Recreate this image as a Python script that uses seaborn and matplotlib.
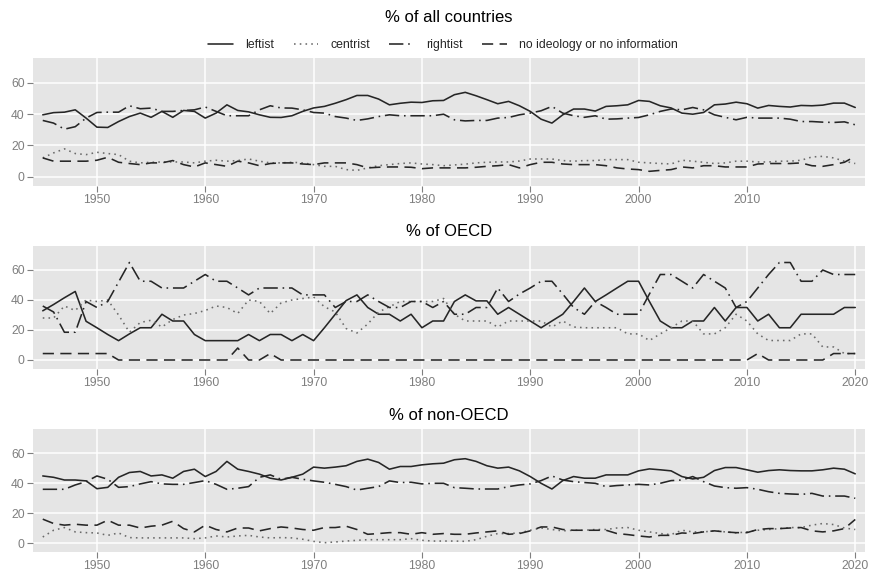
import matplotlib
matplotlib.use("Agg")
import matplotlib.pyplot as plt
import seaborn as sns
import pandas as pd
from matplotlib.lines import Line2D

YEARS = list(range(1945, 2021))
SERIES = ["leftist", "centrist", "rightist", "no ideology or no information"]

# ---------------- % of all countries ----------------
ALL_L = [39.6, 41.0, 41.3, 42.8, 37.5,
         31.7, 31.5, 35.3, 38.5, 40.7, 38.0, 41.8, 38.0, 42.4, 41.8,
         37.5, 40.7, 46.0, 42.4, 41.5, 39.6, 38.0, 37.9, 39.0, 41.8,
         44.0, 45.0, 47.0, 49.3, 52.0, 52.0, 49.7, 46.0, 47.0, 47.7,
         47.5, 48.6, 48.8, 52.5, 54.0, 51.8, 49.3, 46.7, 48.2, 45.4,
         41.8, 36.8, 34.3, 39.6, 43.3, 43.3, 42.0, 45.0, 45.4, 46.0,
         48.8, 48.2, 45.4, 44.0, 40.7, 40.0, 41.1, 46.0, 46.5, 47.7,
         46.7, 43.9, 45.6, 45.0, 44.6, 45.6, 45.4, 45.8, 47.1, 47.1, 44.3]
ALL_C = [12.0, 15.2, 17.8, 14.8, 14.1,
         15.6, 14.8, 14.1, 9.9, 8.8, 9.2, 9.4, 9.4, 9.4, 8.8,
         9.9, 10.5, 9.9, 10.3, 11.3, 9.9, 8.8, 8.8, 9.2, 8.8,
         7.7, 6.6, 6.6, 4.5, 4.0, 5.6, 7.0, 7.7, 8.4, 8.8,
         8.1, 7.7, 7.0, 7.5, 8.0, 8.8, 9.2, 9.4, 9.4, 10.0,
         11.3, 11.3, 11.3, 10.3, 9.9, 10.3, 10.3, 10.9, 10.9, 10.9,
         9.2, 8.8, 8.4, 8.1, 10.5, 9.9, 9.2, 8.4, 8.8, 9.9,
         9.9, 9.4, 9.4, 9.9, 9.9, 10.5, 12.6, 13.0, 12.0, 9.9, 8.4]
ALL_R = [36.0, 34.3, 30.4, 32.0, 37.5,
         41.1, 41.3, 41.3, 45.4, 43.5, 43.9, 41.8, 41.8, 42.4, 42.8,
         44.6, 41.8, 39.0, 39.0, 39.0, 42.8, 45.4, 44.0, 43.9, 42.8,
         41.1, 40.7, 38.5, 37.5, 36.0, 37.0, 38.5, 39.6, 39.0, 39.0,
         39.0, 39.0, 40.0, 36.4, 35.7, 36.0, 36.0, 37.5, 37.9, 39.6,
         40.7, 42.2, 45.0, 40.7, 39.0, 38.0, 39.0, 36.8, 37.0, 37.5,
         37.9, 39.6, 41.8, 43.3, 42.8, 44.3, 42.8, 39.6, 38.0, 36.4,
         38.0, 37.5, 37.5, 37.5, 36.8, 35.3, 35.3, 34.9, 34.7, 35.1, 33.2]
ALL_N = [12.0, 9.9, 9.9, 9.9, 9.9,
         10.5, 12.4, 9.2, 8.4, 7.7, 8.8, 8.8, 10.3, 7.7, 6.2,
         8.8, 7.7, 6.6, 9.9, 8.8, 7.0, 8.4, 8.8, 8.8, 8.1,
         7.7, 8.8, 8.8, 8.8, 7.7, 5.6, 6.0, 6.2, 6.2, 6.0,
         5.1, 5.6, 5.6, 5.6, 5.6, 6.0, 6.6, 7.0, 7.7, 5.6,
         7.7, 9.2, 9.2, 8.1, 7.7, 7.7, 7.7, 7.0, 5.6, 4.9,
         4.5, 3.4, 4.0, 4.5, 6.2, 5.6, 7.0, 7.0, 6.2, 6.2,
         6.2, 8.1, 8.4, 8.4, 8.4, 8.8, 7.0, 6.6, 7.7, 9.2, 13.0]

# ---------------- % of OECD ----------------
OECD_L = [32.8, 37.0, 41.5, 45.7, 25.8,
          21.5, 17.0, 12.9, 17.4, 21.5, 21.5, 30.5, 26.0, 26.0, 17.0,
          12.9, 12.9, 12.9, 12.9, 17.0, 12.9, 17.0, 17.0, 12.9, 17.0,
          12.9, 21.5, 30.5, 39.6, 43.4, 35.0, 30.5, 30.5, 26.0, 30.5,
          21.5, 26.0, 26.0, 39.0, 43.4, 39.4, 39.4, 30.5, 35.0, 30.5,
          26.0, 21.5, 26.0, 30.5, 39.0, 48.0, 39.0, 43.4, 48.0, 52.5,
          52.5, 39.0, 26.0, 21.5, 21.5, 26.0, 26.0, 35.0, 26.0, 35.0,
          35.0, 26.0, 30.5, 21.5, 21.5, 30.5, 30.5, 30.5, 30.5, 35.0, 35.0]
OECD_C = [28.0, 28.0, 36.0, 33.0, 40.0,
          39.0, 40.0, 30.0, 18.5, 25.0, 26.5, 22.0, 27.0, 30.0, 31.0,
          33.0, 36.0, 35.0, 31.0, 40.0, 39.0, 31.0, 38.0, 40.0, 41.0,
          42.0, 35.5, 32.0, 21.0, 18.0, 24.0, 32.0, 35.5, 39.0, 39.0,
          39.0, 39.0, 41.0, 30.5, 26.0, 26.0, 26.0, 22.0, 26.0, 26.0,
          26.0, 26.0, 22.0, 26.0, 22.0, 21.5, 21.5, 21.5, 21.5, 17.4,
          17.4, 13.0, 17.4, 21.5, 26.0, 26.0, 17.4, 17.4, 21.5, 30.5,
          26.0, 17.4, 13.0, 13.0, 13.0, 17.4, 17.4, 8.7, 8.7, 4.3, 4.3]
OECD_R = [36.0, 32.0, 18.5, 18.5, 39.0,
          35.0, 39.0, 52.0, 65.0, 52.5, 52.5, 48.0, 48.0, 48.0, 52.5,
          57.0, 52.5, 52.5, 48.0, 43.4, 48.0, 48.0, 48.0, 48.0, 43.4,
          43.4, 43.4, 35.0, 39.0, 39.0, 43.4, 39.0, 35.0, 35.0, 39.0,
          39.0, 35.0, 39.0, 30.5, 30.5, 35.0, 35.0, 48.0, 39.0, 44.0,
          48.0, 52.5, 52.5, 44.0, 35.0, 30.5, 39.0, 35.0, 30.5, 30.5,
          30.5, 44.0, 57.0, 57.0, 52.5, 48.0, 57.0, 52.5, 48.0, 35.0,
          39.0, 48.0, 57.0, 65.0, 65.0, 52.5, 52.5, 60.0, 57.0, 57.0, 57.0]
OECD_N = [4.3, 4.3, 4.3, 4.3, 4.3,
          4.3, 4.3, 0, 0, 0, 0, 0, 0, 0, 0,
          0, 0, 0, 8.0, 0, 0, 4.3, 0, 0, 0,
          0, 0, 0, 0, 0, 0, 0, 0, 0, 0,
          0, 0, 0, 0, 0, 0, 0, 0, 0, 0,
          0, 0, 0, 0, 0, 0, 0, 0, 0, 0,
          0, 0, 0, 0, 0, 0, 0, 0, 0, 0,
          0, 4.3, 0, 0, 0, 0, 0, 0, 4.3, 4.3, 4.3]

# ---------------- % of non-OECD ----------------
NON_L = [44.7, 43.8, 42.0, 42.0, 41.4,
         36.2, 37.1, 43.8, 47.0, 47.7, 44.7, 45.4, 43.2, 47.7, 49.2,
         44.3, 47.7, 54.4, 49.2, 47.7, 45.9, 43.2, 42.0, 43.8, 45.9,
         50.6, 49.9, 50.6, 51.5, 54.4, 55.9, 53.7, 49.2, 51.0, 51.0,
         52.1, 52.8, 53.2, 55.5, 56.2, 54.4, 51.5, 49.9, 50.6, 48.1,
         44.3, 39.8, 36.0, 41.6, 44.3, 43.2, 43.2, 45.4, 45.4, 45.4,
         48.1, 49.4, 48.8, 48.1, 44.3, 42.7, 43.8, 48.3, 50.3, 50.3,
         48.8, 47.2, 48.3, 48.8, 48.3, 48.1, 48.1, 48.8, 49.9, 49.2, 46.1]
NON_C = [4.0, 8.5, 10.3, 7.4, 6.9,
         6.7, 5.1, 6.7, 3.6, 3.4, 3.4, 3.4, 3.4, 3.4, 2.9,
         3.4, 4.7, 4.0, 4.7, 5.1, 4.0, 3.4, 3.6, 3.4, 2.5,
         1.1, 0.2, 0.7, 1.3, 1.8, 2.2, 2.2, 2.2, 2.2, 2.9,
         1.8, 1.3, 1.3, 1.3, 1.1, 2.2, 4.5, 6.3, 6.3, 6.7,
         8.5, 10.0, 9.0, 8.1, 8.5, 8.5, 9.0, 9.0, 10.0, 10.3,
         8.5, 7.4, 6.3, 5.6, 8.5, 7.4, 7.4, 8.1, 7.4, 6.7,
         7.4, 8.5, 9.0, 9.6, 10.3, 10.3, 11.9, 13.0, 12.3, 10.0, 9.0]
NON_R = [35.8, 35.8, 35.8, 38.7, 40.9,
         44.7, 42.5, 37.1, 37.6, 39.4, 40.9, 39.4, 39.1, 39.1, 40.3,
         41.6, 39.1, 35.8, 36.5, 37.6, 43.8, 45.4, 42.5, 43.8, 42.5,
         41.4, 40.5, 39.1, 37.6, 35.3, 36.5, 37.6, 41.4, 40.3, 40.5,
         39.4, 39.8, 39.8, 36.9, 36.5, 36.0, 36.0, 36.0, 37.6, 38.7,
         39.4, 41.6, 44.7, 42.0, 40.9, 40.3, 39.8, 37.6, 38.3, 38.7,
         39.1, 38.7, 39.8, 41.6, 42.0, 44.3, 40.9, 38.0, 36.9, 36.5,
         36.9, 35.8, 34.2, 33.1, 32.7, 32.4, 33.1, 31.3, 31.3, 31.3, 29.8]
NON_N = [15.9, 13.0, 11.9, 12.5, 11.9,
         11.9, 15.2, 11.9, 11.9, 10.0, 11.2, 11.9, 14.5, 9.6, 7.4,
         11.9, 9.0, 7.4, 10.0, 10.0, 8.1, 9.6, 10.7, 10.0, 9.0,
         8.5, 10.3, 10.3, 11.2, 9.0, 5.8, 6.3, 6.9, 6.9, 5.8,
         6.9, 5.8, 6.3, 5.8, 5.8, 6.7, 7.4, 8.1, 5.8, 6.3,
         8.1, 10.7, 10.7, 9.0, 8.5, 8.5, 8.5, 8.5, 6.3, 5.6,
         4.7, 4.0, 5.1, 5.1, 6.7, 6.3, 7.4, 8.1, 7.4, 6.9,
         6.9, 9.0, 9.6, 9.6, 10.0, 10.3, 8.1, 7.4, 8.1, 9.6, 15.7]

TITLES = ["% of all countries", "% of OECD", "% of non-OECD"]
PANEL_DATA = [[ALL_L, ALL_C, ALL_R, ALL_N],
              [OECD_L, OECD_C, OECD_R, OECD_N],
              [NON_L, NON_C, NON_R, NON_N]]
XTICKS = [[1950, 1960, 1970, 1980, 1990, 2000, 2010],
          [1950, 1960, 1970, 1980, 1990, 2000, 2010, 2020],
          [1950, 1960, 1970, 1980, 1990, 2000, 2010, 2020]]
YTICKS = [0, 20, 40, 60]

sns.set_style("darkgrid", {"axes.facecolor": "#E5E5E5", "grid.color": "white"})
plt.rcParams["font.family"] = ["Liberation Sans", "DejaVu Sans"]

PAL = {"leftist": "#262626", "centrist": "#6a6a6a",
       "rightist": "#262626", "no ideology or no information": "#262626"}
DASHES = {"leftist": "", "centrist": (1, 2.6),
          "rightist": (9, 3, 1, 3), "no ideology or no information": (7, 4)}
LW = 1.15

W, H = 869, 573
fig = plt.figure(figsize=(W / 100, H / 100), dpi=100)

# panel pixel boxes (top, bottom) and title centre y
BOXES = [(58, 186, 18), (246, 369, 232), (429, 552, 415)]
x0, x1 = 33, 865

for i, (top, bot, ty) in enumerate(BOXES):
    ax = fig.add_axes([x0 / W, 1 - bot / H, (x1 - x0) / W, (bot - top) / H])
    rows = []
    for name, vals in zip(SERIES, PANEL_DATA[i]):
        for yr, v in zip(YEARS, vals):
            rows.append((yr, v, name))
    df = pd.DataFrame(rows, columns=["year", "value", "series"])
    sns.lineplot(data=df, x="year", y="value", hue="series", style="series",
                 palette=PAL, dashes=DASHES, linewidth=LW, ax=ax,
                 legend=False, hue_order=SERIES, style_order=SERIES)
    ax.set_xlim(1944.1, 2020.9)
    ax.set_ylim(-6, 76)
    ax.set_xticks(XTICKS[i])
    ax.set_yticks(YTICKS)
    ax.set_xlabel("")
    ax.set_ylabel("")
    ax.grid(True, color="white", linewidth=1.1)
    for s in ax.spines.values():
        s.set_visible(False)
    ax.tick_params(axis="both", length=4, width=0.8, color="#7f7f7f",
                   labelcolor="#7f7f7f", labelsize=8.7, pad=2,
                   bottom=True, left=True)
    fig.text((x0 + x1) / 2 / W, 1 - ty / H, TITLES[i], ha="center",
             va="center", fontsize=12, color="black")

handles = [Line2D([0], [0], color=PAL[s], linewidth=LW,
                  linestyle="-" if DASHES[s] == "" else (0, DASHES[s]))
           for s in SERIES]
fig.legend(handles, SERIES, loc="center", bbox_to_anchor=(443 / W, 1 - 45 / H),
           ncol=4, frameon=False, fontsize=8.8, handlelength=2.0,
           handletextpad=1.0, columnspacing=1.6)

fig.savefig("out.png", dpi=100)
